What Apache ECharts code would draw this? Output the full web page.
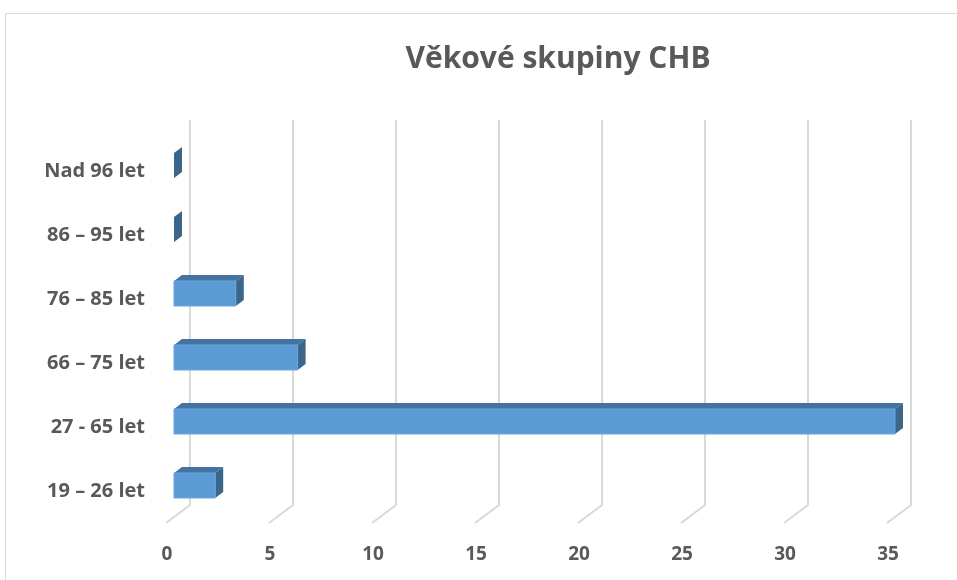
<!DOCTYPE html>
<html>
<head>
<meta charset="utf-8">
<script src="https://cdn.jsdelivr.net/npm/echarts@6/dist/echarts.min.js"></script>
<style>
html,body{margin:0;padding:0;background:#fff}
#chart{width:957px;height:580px}
</style>
</head>
<body>
<div id="chart"></div>
<script>
var categories = ['19 – 26 let', '27 - 65 let', '66 – 75 let', '76 – 85 let', '86 – 95 let', 'Nad 96 let']
var values = [2, 35, 6, 3, 0, 0]
var ticks = [0, 5, 10, 15, 20, 25, 30, 35]

var chart = echarts.init(document.getElementById('chart'))

// 3D offsets of the bars (depth), bars sit a bit above their label
var dx = 8, dy = -6, barH = 25, lift = 6

function renderBar(params, api){
	var idx = api.value(1)
	var p0 = api.coord([0, idx])
	var p1 = api.coord([api.value(0), idx])
	var x0 = p0[0], x1 = p1[0]
	var yc = p0[1] - lift
	var y0 = yc - barH / 2, y1 = yc + barH / 2
	return {
		type:'group',
		children:[
			{
				type:'polygon',
				shape:{points:[[x0, y0], [x0 + dx, y0 + dy], [x1 + dx, y0 + dy], [x1, y0]]},
				style:{fill:'#44739f'}
			},
			{
				type:'polygon',
				shape:{points:[[x1, y0], [x1 + dx, y0 + dy], [x1 + dx, y1 + dy], [x1, y1]]},
				style:{fill:'#3b6589'}
			},
			{
				type:'rect',
				shape:{x:x0, y:y0, width:x1 - x0, height:barH},
				style:{fill:'#5b9bd5', stroke:x1 - x0 > 0 ? '#6aa6de' : null, lineWidth:1}
			}
		]
	}
}

function renderGrid(params, api){
	var cs = params.coordSys
	var p = api.coord([api.value(0), 0])
	var x = p[0] + 16
	var top = cs.y - 19.5
	var back = cs.y + cs.height - 18.5
	var front = cs.y + cs.height - 0.5
	return {
		type:'polyline',
		shape:{points:[[x, top], [x, back], [x - 24, front]]},
		style:{stroke:'#d9d9d9', lineWidth:2, fill:null}
	}
}

chart.setOption({
	backgroundColor:'#ffffff',
	animation:false,
	title:{
		text:'Věkové skupiny CHB',
		left:553,
		top:39,
		textAlign:'center',
		textStyle:{
			fontFamily:'Open Sans',
			fontSize:30,
			fontWeight:'bold',
			color:'#595959'
		}
	},
	graphic:[{
		type:'rect',
		shape:{x:5.5, y:13.5, width:1000, height:1000},
		style:{fill:null, stroke:'#d9d9d9', lineWidth:1},
		silent:true
	}],
	grid:{
		left:174,
		right:62,
		top:139.5,
		bottom:56.5
	},
	xAxis:{
		type:'value',
		min:0,
		max:35,
		interval:5,
		axisLine:{show:false},
		axisTick:{show:false},
		splitLine:{show:false},
		axisLabel:{
			margin:22,
			padding:[0, 14, 0, 0],
			fontFamily:'Open Sans',
			fontSize:19,
			fontWeight:'bold',
			color:'#595959'
		}
	},
	yAxis:{
		type:'category',
		data:categories,
		axisLine:{show:false},
		axisTick:{show:false},
		splitLine:{show:false},
		axisLabel:{
			margin:29,
			fontFamily:'Open Sans',
			fontSize:20,
			fontWeight:'bold',
			color:'#595959'
		}
	},
	series:[
		{
			type:'custom',
			renderItem:renderGrid,
			data:ticks.map(function(t){ return [t, 0] }),
			encode:{x:0, y:1},
			z:1,
			silent:true
		},
		{
			type:'custom',
			renderItem:renderBar,
			data:values.map(function(v, i){ return [v, i] }),
			encode:{x:0, y:1},
			z:2
		}
	]
})
</script>
</body>
</html>
